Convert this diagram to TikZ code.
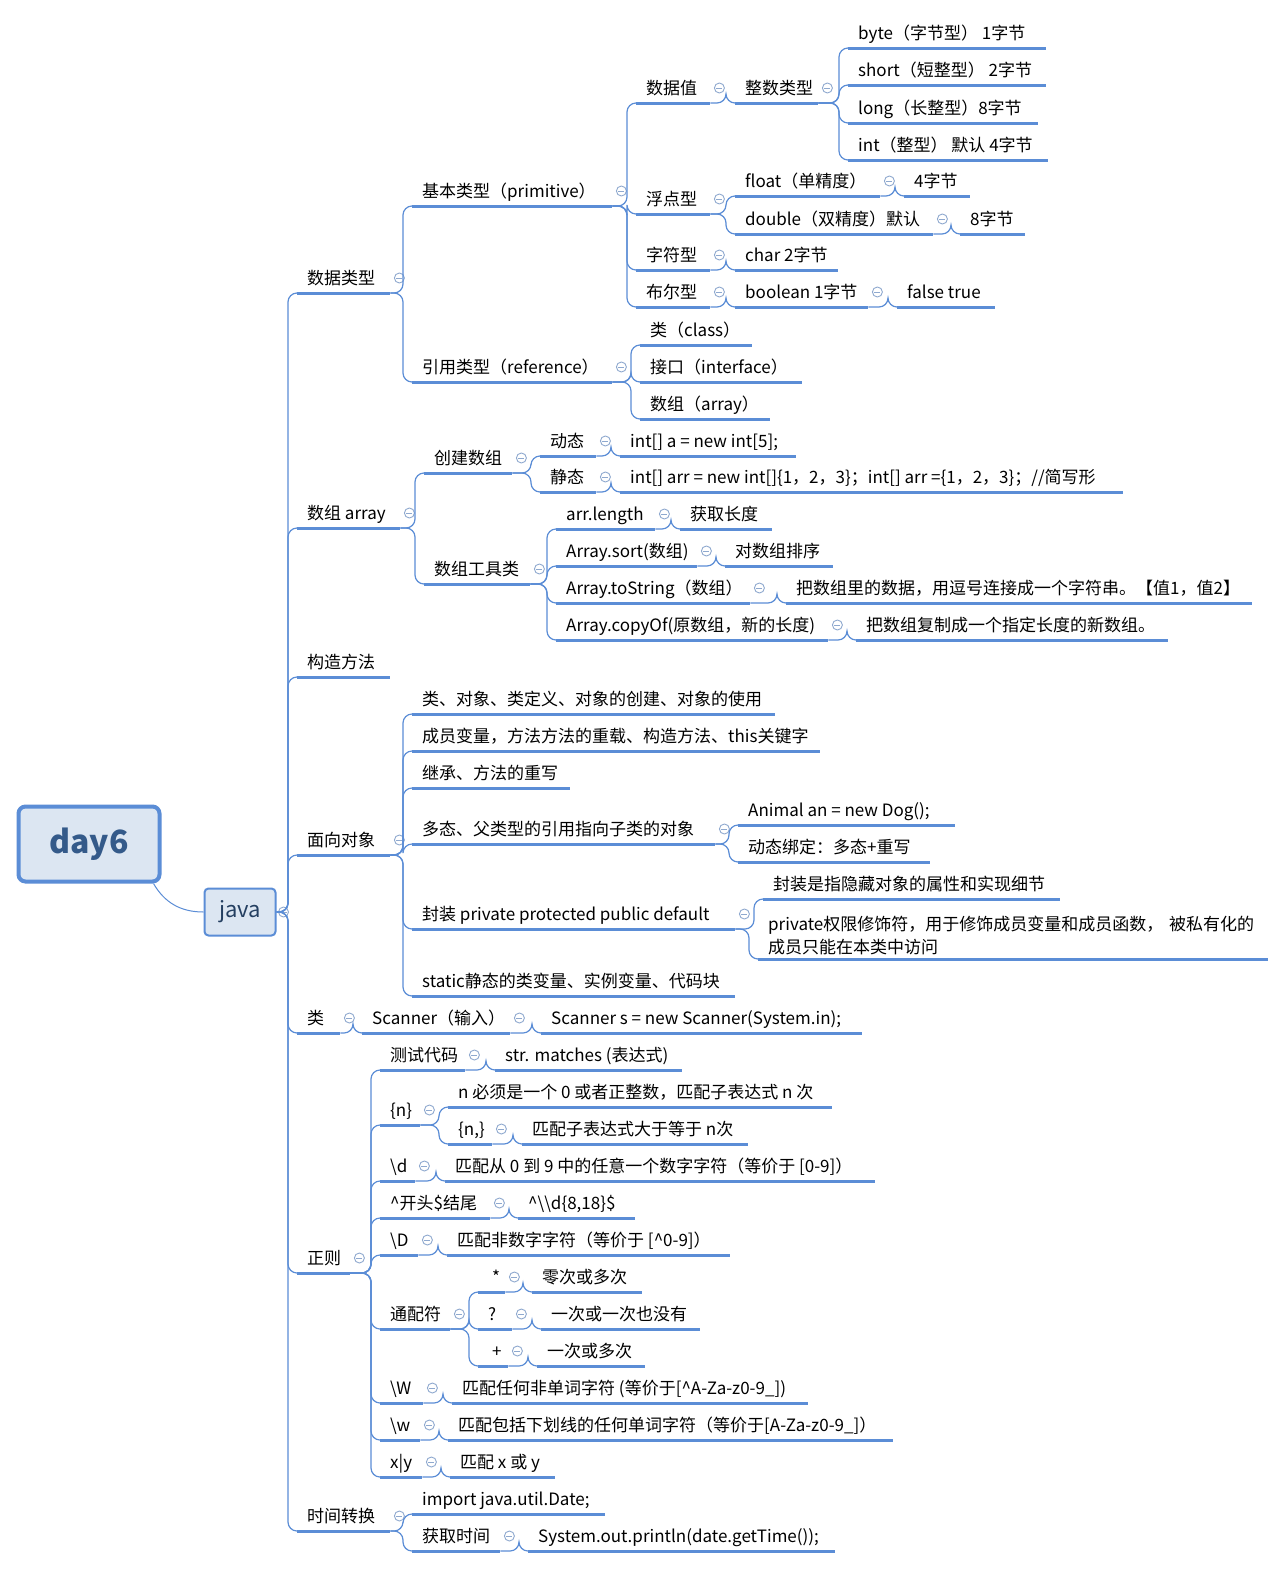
\documentclass[tikz,border=0pt]{standalone}
\usepackage{fontspec}
\setmainfont{Noto Sans CJK SC}
\usetikzlibrary{calc}
\definecolor{bl}{HTML}{5B8DD6}
\definecolor{ic}{HTML}{8FA9CF}
\definecolor{rootfill}{HTML}{DCE6F2}
\definecolor{roottext}{HTML}{345A8A}
\tikzset{
 tp/.style={anchor=south west,inner xsep=10pt,inner ysep=4pt,font=\fontsize{17}{23}\selectfont,align=left},
 one/.style={text height=13pt,text depth=4pt},
 ul/.style={draw=bl,line width=3pt},
 conn/.style={draw=bl,line width=1.2pt,rounded corners=9pt},
 icn/.style={draw=ic,line width=0.9pt}
}
\newcommand\T[5]{\node[tp,one] (#1) at (#2,#4) {\makebox[\dimexpr #3pt-#2pt-20pt\relax][l]{#5}};
 \draw[ul] (#1.south west)--(#1.south east);}
\newcommand\C[2]{\draw[conn] (#1.south east) -- ([xshift=-9pt]#2.south west |- #1.south east) -- ([xshift=-9pt]#2.south west) -- (#2.south west);}
\newcommand\I[1]{\draw[icn] ($(#1.south east)+(9,-15)$) circle (5pt);
 \draw[icn] ($(#1.south east)+(6,-15)$) -- ($(#1.south east)+(12,-15)$);}
\begin{document}
\begin{tikzpicture}[x=1pt,y=-1pt]
\useasboundingbox[fill=white] (0,0) rectangle (1287,1569);
% root
\node[draw=bl,line width=4pt,fill=rootfill,rounded corners=7pt,minimum width=141pt,minimum height=75pt,font=\fontsize{32}{36}\selectfont\bfseries,text=roottext] (day6) at (89,844) {day6};
\node[draw=bl,line width=2pt,fill=rootfill,rounded corners=4pt,minimum width=71pt,minimum height=47pt,font=\fontsize{22}{26}\selectfont,text=roottext!70!black] (java) at (240,912) {java};
\draw[draw=bl,line width=1pt] ([xshift=-8pt]day6.south east) to[out=-60,in=180] (java.west);
\draw[icn] ($(java.east)+(7,0)$) circle (5pt);
\draw[icn] ($(java.east)+(4,0)$) -- ($(java.east)+(10,0)$);
% level 1
\T{sjlx}{297}{390}{293}{数据类型}
\T{szarr}{297}{400}{528}{数组 array}
\T{gzff}{297}{390}{677}{构造方法}
\T{mxdx}{297}{390}{855}{面向对象}
\T{lei}{297}{340}{1033}{类}
\T{zz}{297}{350}{1273}{正则}
\T{sjzh}{297}{390}{1531}{时间转换}
\foreach \c in {sjlx,szarr,gzff,mxdx,lei,zz,sjzh}{
 \draw[conn] (java.east) -- ([xshift=-9pt]\c.south west |- java.east) -- ([xshift=-9pt]\c.south west) -- (\c.south west);}
\foreach \n in {sjlx,szarr,mxdx,lei,zz,sjzh}{\I{\n}}
% 数据类型
\T{jblx}{412}{612}{206}{基本类型（primitive）}
\T{yylx}{412}{612}{382}{引用类型（reference）}
\C{sjlx}{jblx}\C{sjlx}{yylx}\I{jblx}\I{yylx}
\T{sjz}{636}{710}{103}{数据值}
\T{fdx}{636}{710}{214}{浮点型}
\T{zfx}{636}{710}{270}{字符型}
\T{bex}{636}{710}{307}{布尔型}
\foreach \c in {sjz,fdx,zfx,bex}{\C{jblx}{\c}\I{\c}}
\T{zslx}{735}{818}{103}{整数类型}
\C{sjz}{zslx}\I{zslx}
\T{byte}{848}{1046}{48}{byte（字节型） 1字节}
\T{short}{848}{1046}{85}{short（短整型） 2字节}
\T{long}{848}{1038}{123}{long（长整型）8字节}
\T{int}{848}{1048}{160}{int（整型） 默认 4字节}
\foreach \c in {byte,short,long,int}{\C{zslx}{\c}}
\T{float}{735}{880}{196}{float（单精度）}
\T{fb}{904}{970}{196}{4字节}
\T{double}{735}{933}{234}{double（双精度）默认}
\T{db}{960}{1025}{234}{8字节}
\C{fdx}{float}\C{fdx}{double}\C{float}{fb}\C{double}{db}\I{float}\I{double}
\T{char}{735}{838}{270}{char 2字节}
\C{zfx}{char}
\T{bool}{735}{868}{307}{boolean 1字节}
\T{ft}{897}{995}{307}{false true}
\C{bex}{bool}\C{bool}{ft}\I{bool}
\T{class}{640}{752}{345}{类（class）}
\T{inter}{640}{802}{382}{接口（interface）}
\T{array}{640}{770}{419}{数组（array）}
\foreach \c in {class,inter,array}{\C{yylx}{\c}}
% 数组
\T{cjsz}{424}{512}{473}{创建数组}
\T{szgj}{424}{530}{584}{数组工具类}
\C{szarr}{cjsz}\C{szarr}{szgj}\I{cjsz}\I{szgj}
\T{dt}{540}{596}{456}{动态}
\T{dtv}{620}{796}{456}{int[] a = new int[5];}
\T{jt}{540}{596}{492}{静态}
\T{jtv}{620}{1123}{492}{int[] arr = new int[]\{1，2，3\}；int[] arr =\{1，2，3\}；//简写形}
\C{cjsz}{dt}\C{cjsz}{jt}\C{dt}{dtv}\C{jt}{jtv}\I{dt}\I{jt}
\T{al}{556}{655}{529}{arr.length}
\T{alv}{680}{772}{529}{获取长度}
\T{as}{556}{697}{566}{Array.sort(数组)}
\T{asv}{725}{833}{566}{对数组排序}
\T{ats}{556}{750}{603}{Array.toString（数组）}
\T{atsv}{786}{1252}{603}{把数组里的数据，用逗号连接成一个字符串。【值1，值2】}
\T{ac}{556}{828}{640}{Array.copyOf(原数组，新的长度)}
\T{acv}{856}{1168}{640}{把数组复制成一个指定长度的新数组。}
\foreach \a/\b in {al/alv,as/asv,ats/atsv,ac/acv}{\C{szgj}{\a}\C{\a}{\b}\I{\a}}
% 面向对象
\T{m1}{412}{775}{714}{类、对象、类定义、对象的创建、对象的使用}
\T{m2}{412}{820}{751}{成员变量，方法方法的重载、构造方法、this关键字}
\T{m3}{412}{570}{788}{继承、方法的重写}
\T{m4}{412}{715}{844}{多态、父类型的引用指向子类的对象}
\T{m5}{412}{735}{929}{封装 private protected public default}
\T{m6}{412}{735}{996}{static静态的类变量、实例变量、代码块}
\foreach \c in {m1,m2,m3,m4,m5,m6}{\C{mxdx}{\c}}
\I{m4}\I{m5}
\T{dt1}{738}{955}{825}{Animal an = new Dog();}
\T{dt2}{738}{930}{862}{动态绑定：多态+重写}
\C{m4}{dt1}\C{m4}{dt2}
\T{fz1}{763}{1060}{899}{封装是指隐藏对象的属性和实现细节}
\node[tp,text width=490pt] (fz2) at (758,959) {private权限修饰符，用于修饰成员变量和成员函数， 被私有化的\\成员只能在本类中访问};
\draw[ul] (fz2.south west)--(fz2.south east);
\C{m5}{fz1}\C{m5}{fz2}
% 类
\T{scn}{362}{510}{1033}{Scanner（输入）}
\T{scnv}{541}{862}{1033}{Scanner s = new Scanner(System.in);}
\C{lei}{scn}\C{scn}{scnv}\I{scn}
% 正则
\T{csdm}{380}{465}{1070}{测试代码}
\T{csdmv}{495}{682}{1070}{str. matches (表达式)}
\T{zn}{380}{420}{1125}{\{n\}}
\T{zd}{380}{415}{1181}{\textbackslash d}
\T{zks}{380}{490}{1218}{\textasciicircum 开头\$结尾}
\T{zD}{380}{418}{1255}{\textbackslash D}
\T{tpf}{380}{450}{1329}{通配符}
\T{zW}{380}{423}{1403}{\textbackslash W}
\T{zw}{380}{420}{1440}{\textbackslash w}
\T{zxy}{380}{422}{1477}{x|y}
\foreach \c in {csdm,zn,zd,zks,zD,tpf,zW,zw,zxy}{\C{zz}{\c}\I{\c}}
\C{csdm}{csdmv}
\T{zn1}{448}{832}{1107}{n 必须是一个 0 或者正整数，匹配子表达式 n 次}
\T{zn2}{448}{492}{1144}{\{n,\}}
\T{zn2v}{522}{748}{1144}{匹配子表达式大于等于 n次}
\C{zn}{zn1}\C{zn}{zn2}\C{zn2}{zn2v}\I{zn2}
\T{zdv}{445}{875}{1181}{匹配从 0 到 9 中的任意一个数字字符（等价于 [0-9]）}
\T{zksv}{518}{635}{1218}{\textasciicircum\textbackslash\textbackslash d\{8,18\}\$}
\T{zDv}{447}{730}{1255}{匹配非数字字符（等价于 [\textasciicircum 0-9]）}
\T{zWv}{452}{808}{1403}{匹配任何非单词字符 (等价于[\textasciicircum A-Za-z0-9\_])}
\T{zwv}{448}{893}{1440}{匹配包括下划线的任何单词字符（等价于[A-Za-z0-9\_]）}
\T{zxyv}{450}{555}{1477}{匹配 x 或 y}
\C{zd}{zdv}\C{zks}{zksv}\C{zD}{zDv}\C{zW}{zWv}\C{zw}{zwv}\C{zxy}{zxyv}
\T{t1}{478}{505}{1292}{\ *}
\T{t1v}{532}{642}{1292}{零次或多次}
\T{t2}{478}{512}{1329}{?}
\T{t2v}{541}{700}{1329}{一次或一次也没有}
\T{t3}{478}{508}{1366}{\ +}
\T{t3v}{537}{645}{1366}{一次或多次}
\foreach \a/\b in {t1/t1v,t2/t2v,t3/t3v}{\C{tpf}{\a}\C{\a}{\b}\I{\a}}
% 时间转换
\T{imp}{412}{605}{1514}{import java.util.Date;}
\T{hqsj}{412}{500}{1551}{获取时间}
\T{hqsjv}{528}{835}{1551}{System.out.println(date.getTime());}
\C{sjzh}{imp}\C{sjzh}{hqsj}\C{hqsj}{hqsjv}\I{hqsj}
\end{tikzpicture}
\end{document}
